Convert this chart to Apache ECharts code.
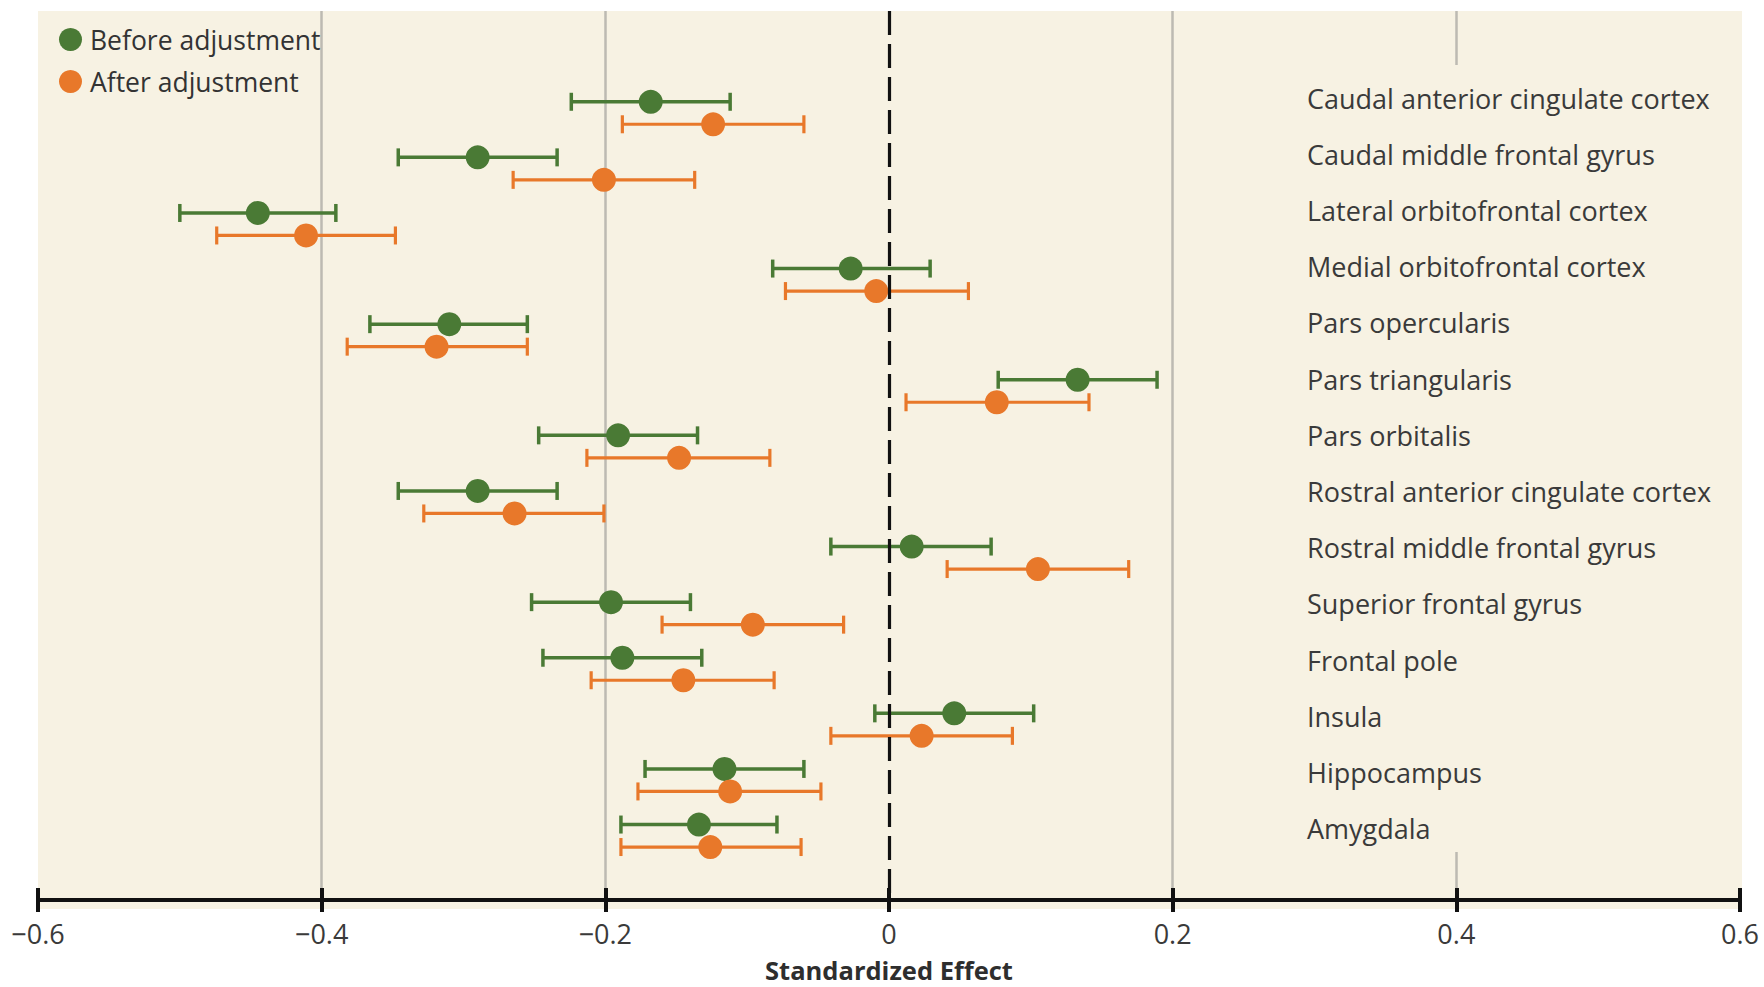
<!DOCTYPE html>
<html>
<head>
<meta charset="utf-8">
<script src="https://cdn.jsdelivr.net/npm/echarts@6/dist/echarts.min.js"></script>
<style>
html,body{margin:0;padding:0;background:#fff;}
#chart{width:1764px;height:987px;}
</style>
</head>
<body>
<div id="chart"></div>
<script>
const categories = [
  'Caudal anterior cingulate cortex',
  'Caudal middle frontal gyrus',
  'Lateral orbitofrontal cortex',
  'Medial orbitofrontal cortex',
  'Pars opercularis',
  'Pars triangularis',
  'Pars orbitalis',
  'Rostral anterior cingulate cortex',
  'Rostral middle frontal gyrus',
  'Superior frontal gyrus',
  'Frontal pole',
  'Insula',
  'Hippocampus',
  'Amygdala'
];
const seriesNames = ['Before adjustment', 'After adjustment'];
const beforeEst = [-0.168, -0.290, -0.445, -0.027, -0.310, 0.133, -0.191, -0.290, 0.016, -0.196, -0.188, 0.046, -0.116, -0.134];
const beforeLo  = [-0.224, -0.346, -0.500, -0.082, -0.366, 0.077, -0.247, -0.346, -0.041, -0.252, -0.244, -0.010, -0.172, -0.189];
const beforeHi  = [-0.112, -0.234, -0.390, 0.029, -0.255, 0.189, -0.135, -0.234, 0.072, -0.140, -0.132, 0.102, -0.060, -0.079];
const afterEst  = [-0.124, -0.201, -0.411, -0.009, -0.319, 0.076, -0.148, -0.264, 0.105, -0.096, -0.145, 0.023, -0.112, -0.126];
const afterLo   = [-0.188, -0.265, -0.474, -0.073, -0.382, 0.012, -0.213, -0.328, 0.041, -0.160, -0.210, -0.041, -0.177, -0.189];
const afterHi   = [-0.060, -0.137, -0.348, 0.056, -0.255, 0.141, -0.084, -0.201, 0.169, -0.032, -0.081, 0.087, -0.048, -0.062];
const xTicks = [-0.6, -0.4, -0.2, 0, 0.2, 0.4, 0.6];
const xTitle = 'Standardized Effect';

const GREEN = '#4a7a35';
const ORANGE = '#e8782a';
const BG = '#f7f2e3';
const GRID = '#bdbab2';
const FONT = "'Open Sans', 'Noto Sans', sans-serif";

function fmtTick(v) {
  if (Math.abs(v) < 1e-9) return '0';
  return (v < 0 ? '\u2212' : '') + Math.abs(v).toFixed(1);
}

function barRenderer(offset, color, lw) {
  return function (params, api) {
    const i = api.value(0), lo = api.value(1), hi = api.value(2);
    const p1 = api.coord([lo, i]);
    const p2 = api.coord([hi, i]);
    const y = p1[1] + offset;
    const h = 9;
    const st = { stroke: color, lineWidth: lw, lineCap: 'butt' };
    return {
      type: 'group',
      children: [
        { type: 'line', shape: { x1: p1[0], y1: y, x2: p2[0], y2: y }, style: st },
        { type: 'line', shape: { x1: p1[0], y1: y - h, x2: p1[0], y2: y + h }, style: st },
        { type: 'line', shape: { x1: p2[0], y1: y - h, x2: p2[0], y2: y + h }, style: st }
      ]
    };
  };
}

const beforeBars = categories.map((c, i) => [i, beforeLo[i], beforeHi[i]]);
const afterBars = categories.map((c, i) => [i, afterLo[i], afterHi[i]]);
const beforePts = categories.map((c, i) => [beforeEst[i], i]);
const afterPts = categories.map((c, i) => [afterEst[i], i]);
const labelData = categories.map((c, i) => [i]);

const splitColors = xTicks.map(v => (Math.abs(v) < 1e-9 || Math.abs(Math.abs(v) - 0.6) < 1e-9) ? 'rgba(0,0,0,0)' : GRID);

const chart = echarts.init(document.getElementById('chart'), null, { renderer: 'svg' });
chart.setOption({
  animation: false,
  backgroundColor: '#ffffff',
  graphic: {
    elements: [{
      type: 'rect', z: -10, silent: true,
      shape: { x: 38, y: 11, width: 1704, height: 898 },
      style: { fill: BG }
    }]
  },
  legend: {
    data: seriesNames,
    orient: 'vertical',
    left: 54, top: 21,
    icon: 'circle',
    itemWidth: 23, itemHeight: 23,
    itemGap: 15,
    selectedMode: false,
    textStyle: { fontFamily: FONT, fontSize: 26.5, lineHeight: 27, color: '#333', padding: [0, 0, 0, 3] }
  },
  grid: { left: 38, right: 24, top: 11, bottom: 87, containLabel: false, outerBoundsMode: 'none' },
  xAxis: [{
    type: 'value', min: -0.6, max: 0.6, interval: 0.2,
    position: 'bottom',
    name: xTitle, nameLocation: 'middle', nameGap: 58.5,
    nameTextStyle: { fontFamily: FONT, fontSize: 25.5, fontWeight: 'bold', color: '#2e2e2e', lineHeight: 22 },
    axisLine: { show: true, onZero: false, lineStyle: { color: '#111', width: 4 } },
    axisTick: { show: true, length: 12, lineStyle: { color: '#111', width: 4 } },
    axisLabel: { formatter: fmtTick, fontFamily: FONT, fontSize: 27, lineHeight: 27, color: '#3a3a3a', margin: 20 },
    splitLine: { show: true, lineStyle: { color: splitColors, width: 2.5 } }
  }, {
    type: 'value', min: -0.6, max: 0.6, interval: 0.2,
    position: 'bottom',
    axisLine: { show: false, onZero: false },
    axisTick: { show: true, inside: true, length: 12, lineStyle: { color: '#111', width: 4 } },
    axisLabel: { show: false },
    splitLine: { show: false }
  }],
  yAxis: [{
    type: 'value', inverse: true, min: -1.835, max: 14.155, show: false
  }, {
    type: 'value', inverse: true, min: -1.548, max: 14.27, show: false
  }],
  series: [
    {
      type: 'custom', name: 'labels', xAxisIndex: 0, yAxisIndex: 1, z: 3,
      data: labelData, encode: { y: 0 }, silent: true,
      renderItem: function (params, api) {
        const i = api.value(0);
        const cs = params.coordSys;
        const y = api.coord([0, i])[1];
        const children = [];
        if (params.dataIndex === 0) {
          children.push({
            type: 'rect',
            shape: { x: cs.x + cs.width - 450, y: cs.y + 54, width: 440, height: cs.height - 102 },
            style: { fill: BG }
          });
        }
        children.push({
          type: 'text', x: cs.x + 1269, y: y,
          style: { text: categories[i], fontFamily: FONT, fontSize: 27, fill: '#3a3a3a', align: 'left', verticalAlign: 'middle' }
        });
        return { type: 'group', children: children };
      }
    },
    {
      type: 'custom', name: 'beforeBars', z: 4, silent: true,
      data: beforeBars, encode: { x: [1, 2], y: 0 },
      renderItem: barRenderer(-11.25, GREEN, 3.5)
    },
    {
      type: 'scatter', name: seriesNames[0], z: 5,
      data: beforePts, symbol: 'circle', symbolSize: 24, symbolOffset: [0, -11.25],
      itemStyle: { color: GREEN, opacity: 1 }
    },
    {
      type: 'custom', name: 'afterBars', z: 6, silent: true,
      data: afterBars, encode: { x: [1, 2], y: 0 },
      renderItem: barRenderer(11.25, ORANGE, 3.2)
    },
    {
      type: 'scatter', name: seriesNames[1], z: 7,
      data: afterPts, symbol: 'circle', symbolSize: 24, symbolOffset: [0, 11.25],
      itemStyle: { color: ORANGE, opacity: 1 },
      markLine: {
        silent: true, symbol: 'none', z: 10,
        label: { show: false },
        lineStyle: { color: '#111', width: 3.2, type: [24, 9] },
        data: [{ xAxis: 0 }]
      }
    }
  ]
});
</script>
</body>
</html>
